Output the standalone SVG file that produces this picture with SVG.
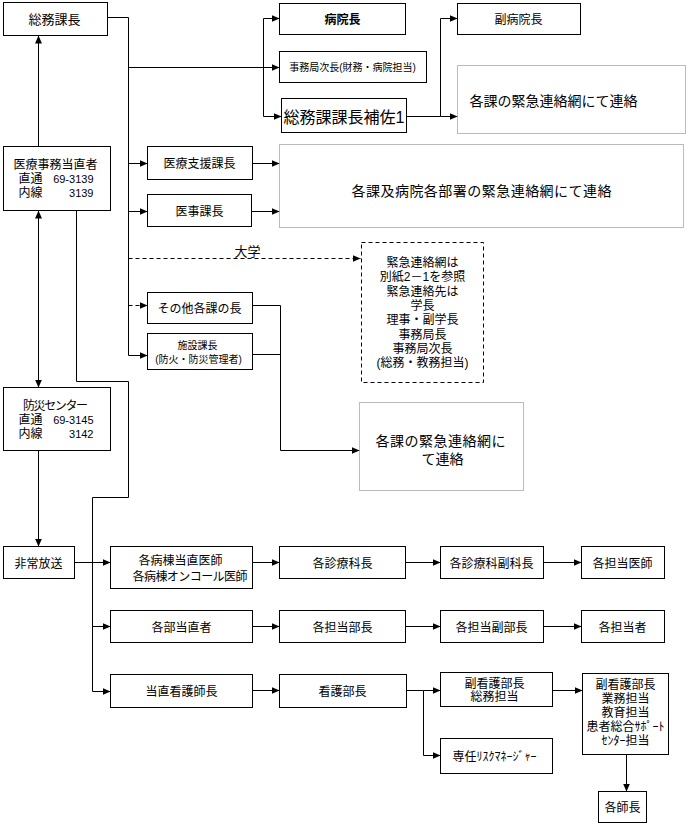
<svg xmlns="http://www.w3.org/2000/svg" width="688" height="825" viewBox="0 0 688 825">
<style>
.box{fill:#fff;stroke:#000;stroke-width:1}
.dot{fill:#fff;stroke:#777;stroke-width:1;stroke-dasharray:1 1}
.dsh{fill:#fff;stroke:#000;stroke-width:1;stroke-dasharray:4 3}
.t{font-family:"Liberation Sans","Noto Sans CJK JP",sans-serif;font-size:12px;fill:#000;text-anchor:middle}
.s{text-anchor:start}
.e{text-anchor:end}
.n{font-size:11px}
.sm{font-size:10px}
.lg{font-size:14px}
.b{font-weight:bold}
.ln{fill:none;stroke:#000;stroke-width:1}
.arr{marker-end:url(#ah)}
.dl{stroke-dasharray:4 3}
</style>
<defs>
<marker id="ah" viewBox="0 0 10 10" refX="10" refY="5" markerWidth="8" markerHeight="7" markerUnits="userSpaceOnUse" orient="auto-start-reverse" preserveAspectRatio="none">
<path d="M0,0 L10,5 L0,10 z" fill="#000"/>
</marker>
</defs>
<rect width="688" height="825" fill="#fff"/>
<g transform="translate(0.5,0.5)">
<g id="connectors">
<path class="ln arr" d="M107,17 H128 V355 H147"/>
<path class="ln arr" d="M128,67 H279"/>
<path class="ln" d="M263,18 V116"/>
<path class="ln arr" d="M263,18 H279"/>
<path class="ln arr" d="M263,116 H281"/>
<path class="ln arr" d="M128,163 H147"/>
<path class="ln arr" d="M128,211 H147"/>
<path class="ln arr dl" d="M128,258 H360"/>
<path class="ln arr dl" d="M128,305 H147"/>
<path class="ln arr" d="M406,116 H440 V18 H457"/>
<path class="ln arr" d="M440,116 H457"/>
<path class="ln arr" d="M252,163 H279"/>
<path class="ln arr" d="M251,211 H279"/>
<path class="ln arr" d="M252,305 H280 V450 H359"/>
<path class="ln" d="M252,354 H280"/>
<path class="ln arr" d="M38,146 V35"/>
<path class="ln arr" style="marker-start:url(#ah)" d="M38,210 V387"/>
<path class="ln arr" d="M38,450 V546"/>
<path class="ln arr" d="M76,210 V381 H128 V497 H92 V691 H110"/>
<path class="ln arr" d="M92,626 H110"/>
<path class="ln arr" d="M74,562 H110"/>
<path class="ln arr" d="M252,562 H279"/>
<path class="ln arr" d="M405,562 H440"/>
<path class="ln arr" d="M543,562 H581"/>
<path class="ln arr" d="M252,626 H279"/>
<path class="ln arr" d="M405,626 H440"/>
<path class="ln arr" d="M543,626 H581"/>
<path class="ln arr" d="M252,690 H279"/>
<path class="ln arr" d="M406,690 H423 V755 H440"/>
<path class="ln arr" d="M423,690 H440"/>
<path class="ln arr" d="M552,690 H582"/>
<path class="ln arr" d="M626,754 V791"/>
</g>
<g id="n-somukacho"><rect class="box" x="3" y="2" width="104" height="33"/><text class="t" x="54" y="23" style="font-size:13px">総務課長</text></g>
<g id="n-byoincho"><rect class="box" x="279" y="3" width="126" height="31"/><text class="t b" x="342" y="23">病院長</text></g>
<g id="n-jimukyokujicho"><rect class="box" x="279" y="51" width="147" height="31"/><text class="t sm" x="352" y="70">事務局次長(財務・病院担当)</text></g>
<g id="n-hosa"><rect class="box" x="281" y="98" width="125" height="34"/><text class="t s" x="283" y="122" style="font-size:16px">総務課課長補佐1</text></g>
<g id="n-fukubyoincho"><rect class="box" x="457" y="3" width="123" height="31"/><text class="t" x="518" y="23">副病院長</text></g>
<g id="n-renraku1"><rect class="dot" x="457" y="65" width="228" height="68"/><text class="t s lg" x="469" y="105">各課の緊急連絡網にて連絡</text></g>
<g id="n-iryojimu"><rect class="box" x="3" y="146" width="107" height="64"/>
<text class="t" x="55" y="168">医療事務当直者</text>
<text class="t s" x="18" y="182">直通</text><text class="t e n" x="93" y="182">69-3139</text>
<text class="t s" x="18" y="196">内線</text><text class="t e n" x="93" y="196">3139</text></g>
<g id="n-iryoshien"><rect class="box" x="147" y="146" width="105" height="33"/><text class="t" x="199" y="167">医療支援課長</text></g>
<g id="n-ijika"><rect class="box" x="147" y="194" width="104" height="32"/><text class="t" x="199" y="215">医事課長</text></g>
<g id="n-renraku2"><rect class="dot" x="279" y="144" width="404" height="83"/><text class="t lg" x="481" y="195" textLength="260">各課及病院各部署の緊急連絡網にて連絡</text></g>
<text class="t" x="247" y="255" style="font-size:13px">大学</text>
<g id="n-daigaku"><rect class="dsh" x="361" y="242" width="122" height="140"/>
<text class="t" x="422" y="266">緊急連絡網は</text>
<text class="t" x="422" y="280">別紙2－1を参照</text>
<text class="t" x="422" y="295">緊急連絡先は</text>
<text class="t" x="422" y="309">学長</text>
<text class="t" x="422" y="323">理事・副学長</text>
<text class="t" x="422" y="338">事務局長</text>
<text class="t" x="422" y="352">事務局次長</text>
<text class="t" x="422" y="366">(総務・教務担当)</text></g>
<g id="n-sonota"><rect class="box" x="147" y="292" width="105" height="31"/><text class="t" x="199" y="312">その他各課の長</text></g>
<g id="n-shisetsu"><rect class="box" x="147" y="333" width="105" height="36"/><text class="t sm" x="197" y="348">施設課長</text><text class="t sm" x="198" y="362">(防火・防災管理者)</text></g>
<g id="n-bosai"><rect class="box" x="3" y="387" width="107" height="63"/>
<text class="t" x="55" y="409" textLength="65">防災センター</text>
<text class="t s" x="18" y="423">直通</text><text class="t e n" x="93" y="423">69-3145</text>
<text class="t s" x="18" y="437">内線</text><text class="t e n" x="93" y="437">3142</text></g>
<g id="n-renraku3"><rect class="dot" x="359" y="402" width="164" height="88"/><text class="t lg" x="440" y="445" textLength="130">各課の緊急連絡網に</text><text class="t lg" x="442" y="463">て連絡</text></g>
<g id="n-hijo"><rect class="box" x="3" y="546" width="71" height="32"/><text class="t" x="38" y="567">非常放送</text></g>
<g id="n-byoto"><rect class="box" x="110" y="546" width="142" height="42"/><text class="t s" x="138" y="564">各病棟当直医師</text><text class="t s" x="132" y="580" textLength="115">各病棟オンコール医師</text></g>
<g id="n-shinryokacho"><rect class="box" x="279" y="546" width="126" height="32"/><text class="t" x="342" y="567">各診療科長</text></g>
<g id="n-fukukacho"><rect class="box" x="440" y="546" width="103" height="32"/><text class="t" x="491" y="567">各診療科副科長</text></g>
<g id="n-tantoishi"><rect class="box" x="581" y="546" width="83" height="32"/><text class="t" x="622" y="567">各担当医師</text></g>
<g id="n-bu"><rect class="box" x="110" y="610" width="142" height="32"/><text class="t" x="181" y="631">各部当直者</text></g>
<g id="n-buchou"><rect class="box" x="279" y="610" width="126" height="32"/><text class="t" x="342" y="631">各担当部長</text></g>
<g id="n-fukubucho"><rect class="box" x="440" y="610" width="103" height="32"/><text class="t" x="491" y="631">各担当副部長</text></g>
<g id="n-tantosha"><rect class="box" x="581" y="610" width="83" height="32"/><text class="t" x="622" y="631">各担当者</text></g>
<g id="n-kangoshicho"><rect class="box" x="110" y="674" width="142" height="33"/><text class="t" x="181" y="695">当直看護師長</text></g>
<g id="n-kangobucho"><rect class="box" x="279" y="674" width="127" height="33"/><text class="t" x="342" y="695">看護部長</text></g>
<g id="n-fukukango1"><rect class="box" x="440" y="672" width="112" height="34"/><text class="t" x="494" y="687">副看護部長</text><text class="t" x="494" y="700">総務担当</text></g>
<g id="n-risk"><rect class="box" x="440" y="738" width="112" height="35"/><text class="t" x="494" y="760">専任ﾘｽｸﾏﾈｰｼﾞｬｰ</text></g>
<g id="n-fukukango2"><rect class="box" x="582" y="673" width="86" height="81"/>
<text class="t" x="625" y="688">副看護部長</text>
<text class="t" x="625" y="702">業務担当</text>
<text class="t" x="625" y="716">教育担当</text>
<text class="t" x="625" y="730">患者総合ｻﾎﾟｰﾄ</text>
<text class="t" x="625" y="744">ｾﾝﾀｰ担当</text></g>
<g id="n-shicho"><rect class="box" x="598" y="791" width="48" height="31"/><text class="t" x="622" y="811">各師長</text></g>
</g>
</svg>
